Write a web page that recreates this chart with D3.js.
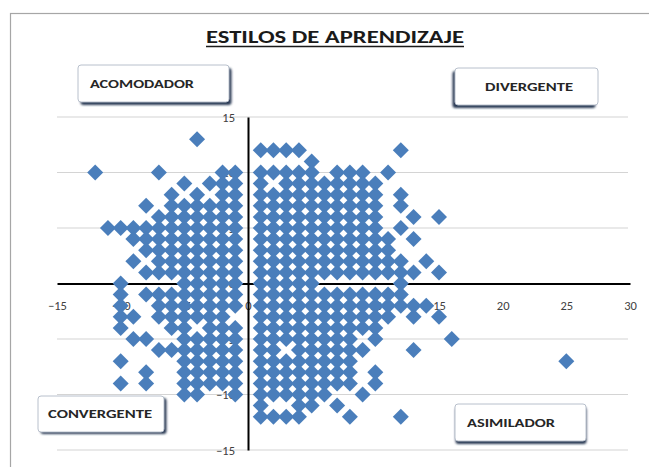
<!DOCTYPE html>
<html><head><meta charset="utf-8">
<script src="https://cdn.jsdelivr.net/npm/d3@7"></script>
<style>html,body{margin:0;padding:0;background:#fff}svg{display:block}</style>
</head><body>
<svg id="chart" width="649" height="467"></svg>
<script>
// ---------------- DATA ----------------
const chartTitle = "ESTILOS DE APRENDIZAJE";
const quadrantNames = ["ACOMODADOR", "DIVERGENTE", "CONVERGENTE", "ASIMILADOR"];
const xTickValues = [-15, -10, -5, 0, 5, 10, 15, 20, 25, 30];
const yTickValues = [-15, -10, -5, 0, 5, 10, 15];
const yGridValues = [-15, -10, -5, 5, 10, 15];
// points, listed row by row: y value of each row and the x values read in that row
const rowY = [13, 12, 11, 10, 9, 8, 7, 6, 5, 4, 3, 2, 1, 0, -1, -2, -3, -4, -5, -6, -7, -8, -9, -10, -11, -12];
const rowX = [
  [-4],
  [1, 2, 3, 4, 12],
  [5],
  [-12, -7, -2, -1, 1, 2, 3, 4, 5, 7, 8, 9, 11],
  [-5, -3, -2, -1, 1, 3, 4, 5, 6, 7, 8, 9, 10],
  [-6, -4, -2, -1, 1, 2, 3, 4, 5, 6, 7, 8, 9, 10, 12],
  [-8, -6, -5, -4, -3, -2, -1, 1, 2, 3, 4, 5, 6, 7, 8, 9, 10, 12],
  [-7, -6, -5, -4, -3, -2, -1, 1, 2, 3, 4, 5, 6, 7, 8, 9, 10, 13, 15],
  [-11, -10, -9, -8, -7, -6, -5, -4, -3, -2, -1, 1, 2, 3, 4, 5, 6, 7, 8, 9, 10, 12],
  [-9, -8, -7, -6, -5, -4, -3, -2, -1, 1, 2, 3, 4, 5, 6, 7, 8, 9, 10, 11, 13],
  [-8, -7, -6, -5, -4, -3, -2, -1, 1, 2, 3, 4, 5, 6, 7, 8, 9, 10, 11],
  [-9, -7, -6, -5, -4, -3, -2, -1, 1, 2, 3, 4, 5, 6, 7, 8, 9, 10, 11, 12, 14],
  [-8, -7, -6, -5, -4, -3, -2, -1, 1, 2, 3, 4, 5, 6, 7, 8, 9, 10, 11, 12, 13, 15],
  [-10, -5, -4, -3, -2, -1, 1, 2, 3, 4, 5, 12],
  [-10, -8, -7, -6, -5, -4, -3, -2, -1, 1, 2, 3, 4, 5, 6, 7, 8, 9, 10, 11, 12],
  [-10, -7, -6, -5, -4, -3, -2, -1, 1, 2, 3, 4, 5, 6, 7, 8, 9, 10, 11, 12, 13, 14],
  [-10, -9, -7, -6, -5, -4, -3, -2, 1, 2, 3, 4, 5, 6, 7, 8, 9, 10, 11, 13, 15],
  [-10, -6, -5, -3, -2, -1, 1, 2, 3, 4, 5, 6, 7, 8, 9, 10],
  [-9, -8, -5, -4, -3, -2, -1, 1, 2, 3, 4, 5, 6, 7, 8, 10, 16],
  [-7, -6, -5, -4, -3, -2, -1, 1, 2, 4, 5, 6, 7, 8, 9, 13],
  [-10, -5, -4, -3, -2, -1, 1, 2, 3, 4, 5, 6, 7, 8, 25],
  [-8, -5, -4, -3, -2, -1, 1, 2, 3, 4, 5, 6, 7, 8, 10],
  [-10, -8, -5, -4, -3, -2, -1, 1, 2, 3, 4, 5, 6, 7, 8, 10],
  [-5, -4, -1, 1, 2, 3, 4, 5, 6, 9],
  [1, 4, 5, 7],
  [1, 2, 3, 4, 8, 12]
];

// ---------------- CHART ----------------
const points = [];
rowY.forEach((y, i) => rowX[i].forEach(x => points.push({x, y})));

const svg = d3.select("#chart");
const plot = {left: 57, right: 630, top: 117, bottom: 450};
const FONT = "Carlito, 'Liberation Sans Narrow', 'Liberation Sans', Arial, sans-serif";

const x = d3.scaleLinear().domain([-15, 30]).range([plot.left, plot.right]);
const y = d3.scaleLinear().domain([-15, 15]).range([plot.bottom, plot.top]);

const defs = svg.append("defs");
const f = defs.append("filter").attr("id", "shadow").attr("x", "-20%").attr("y", "-20%").attr("width", "140%").attr("height", "150%");
f.append("feGaussianBlur").attr("stdDeviation", 1.2);

// outer frame (right and bottom edges fall outside the picture)
svg.append("rect").attr("x", 10.5).attr("y", 13.5).attr("width", 660).attr("height", 470)
  .attr("fill", "#fff").attr("stroke", "#a6a6a6").attr("stroke-width", 1.2);

// gridlines
svg.append("g").selectAll("line").data(yGridValues).join("line")
  .attr("x1", plot.left).attr("x2", plot.right - 2)
  .attr("y1", d => y(d)).attr("y2", d => y(d))
  .attr("stroke", "#d4d4d4").attr("stroke-width", 1.2);

// axes crossing at 0
const xAxis = d3.axisBottom(x).tickValues(xTickValues).tickSize(0).tickPadding(0);
const gx = svg.append("g").attr("transform", `translate(0,${y(0)})`).call(xAxis);
gx.select(".domain").attr("stroke", "#000").attr("stroke-width", 2);
gx.selectAll("text").attr("dy", 0).attr("y", 26)
  .attr("font-family", FONT).attr("font-size", 12.5).attr("fill", "#404040");

const yAxis = d3.axisLeft(y).tickValues(yTickValues).tickSize(0).tickPadding(0);
const gy = svg.append("g").attr("transform", `translate(${x(0)},0)`).call(yAxis);
gy.select(".domain").attr("stroke", "#000").attr("stroke-width", 2);
gy.selectAll("text").attr("x", -13).attr("dy", "0.35em")
  .attr("font-family", FONT).attr("font-size", 12.5).attr("fill", "#404040");

// points (diamonds)
const sym = d3.symbol().type(d3.symbolSquare).size(128);
svg.append("g").selectAll("path").data(points).join("path")
  .attr("d", sym)
  .attr("transform", d => `translate(${x(d.x)},${y(d.y)}) rotate(45)`)
  .attr("fill", "#4a7ebb");

// title
svg.append("text").attr("x", 335).attr("y", 43).attr("text-anchor", "middle")
  .attr("font-family", FONT).attr("font-weight", "bold").attr("font-size", 19).attr("fill", "#1a1a1a")
  .attr("textLength", 258).attr("lengthAdjust", "spacingAndGlyphs")
  .text(chartTitle);
svg.append("line").attr("x1", 206).attr("x2", 464).attr("y1", 46.5).attr("y2", 46.5)
  .attr("stroke", "#1a1a1a").attr("stroke-width", 1.4);

// quadrant boxes
const boxes = [
  {name: quadrantNames[0], x: 78, y: 65, w: 151, h: 37, dx: 2.5, dy: 3, tx: 90, tw: 104},
  {name: quadrantNames[1], x: 455, y: 68, w: 143, h: 37, dx: -2.5, dy: 3, tx: 485, tw: 88},
  {name: quadrantNames[2], x: 38, y: 396, w: 126, h: 36, dx: 2.5, dy: 2, tx: 48, tw: 104},
  {name: quadrantNames[3], x: 455, y: 404, w: 131, h: 37, dx: 0.5, dy: 3, tx: 467, tw: 88}
];
const bg = svg.append("g").selectAll("g").data(boxes).join("g");
bg.append("rect").attr("x", d => d.x + d.dx).attr("y", d => d.y + d.dy)
  .attr("width", d => d.w).attr("height", d => d.h).attr("rx", 3)
  .attr("fill", "#2b3a55").attr("filter", "url(#shadow)");
bg.append("rect").attr("x", d => d.x).attr("y", d => d.y)
  .attr("width", d => d.w).attr("height", d => d.h).attr("rx", 3)
  .attr("fill", "#fff").attr("stroke", "#b8c0cc").attr("stroke-width", 1);
bg.append("text").attr("x", d => d.tx).attr("y", d => d.y + d.h / 2 + 4)
  .attr("font-family", FONT).attr("font-weight", "bold").attr("font-size", 11.5).attr("fill", "#262626")
  .attr("textLength", d => d.tw).attr("lengthAdjust", "spacingAndGlyphs")
  .text(d => d.name);
</script>
</body></html>
